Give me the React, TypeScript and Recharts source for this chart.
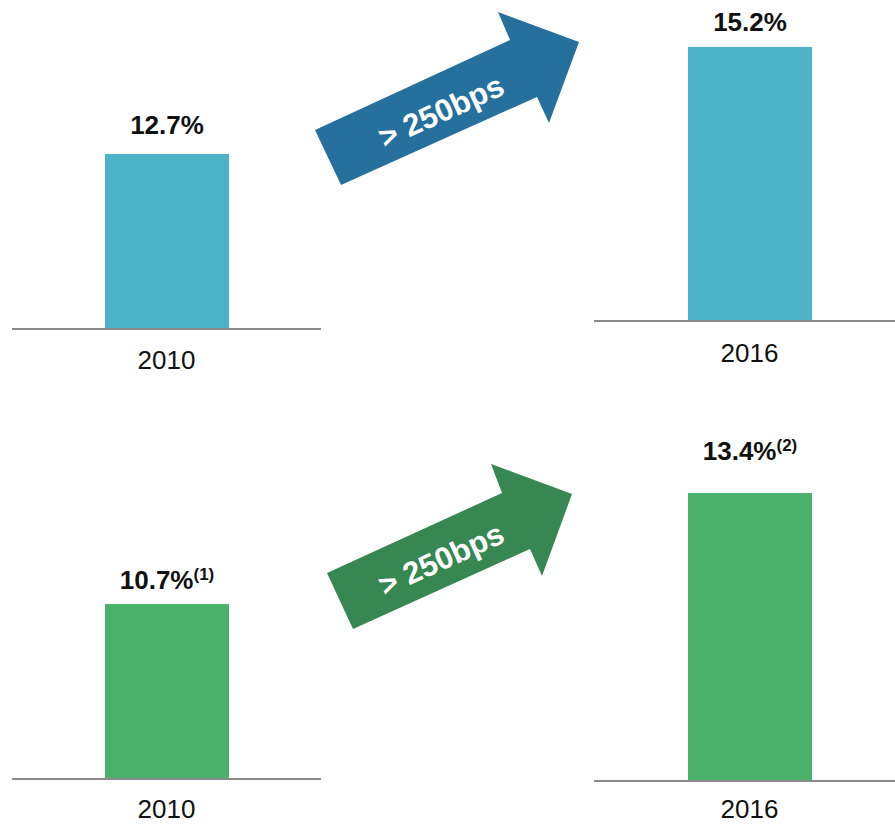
import React from 'react';
import { BarChart, Bar, XAxis, YAxis, LabelList } from 'recharts';

const years = ['2010', '2016'];
const topValues = [12.7, 15.2];
const bottomValues = [10.7, 13.4];
const bottomNotes = ['(1)', '(2)'];
const arrowLabel = '> 250bps';

const FONT = '"Liberation Sans", Arial, Helvetica, sans-serif';
const BLUE = '#4db3c8';
const BLUE_ARROW = '#26709e';
const GREEN = '#4bb26b';
const GREEN_ARROW = '#368751';

interface Box {
  left: number;
  top: number;
  width: number;
  height: number;
  mTop: number;
  mLeft: number;
  mRight: number;
  axisHeight: number;
  padLeft: number;
  labelGap: number;
  tickGap: number;
}

interface PanelProps {
  year: string;
  value: number;
  note?: string;
  color: string;
  box: Box;
}

function Panel({ year, value, note, color, box }: PanelProps) {
  const data = [{ year, value }];

  const renderTick = (props: any) => (
    <text x={props.x} y={props.y + box.tickGap} textAnchor="middle" fontFamily={FONT} fontSize={26} fill="#111">
      {props.payload.value}
    </text>
  );

  const renderLabel = (p: any) => {
    const cx = Number(p.x) + Number(p.width) / 2;
    return (
      <text x={cx} y={Number(p.y) - box.labelGap} textAnchor="middle" fontFamily={FONT} fill="#111">
        <tspan fontSize={26} fontWeight="bold">{`${p.value}%`}</tspan>
        {note && (
          <tspan fontSize={17} fontWeight="bold" dy={-9}>{note}</tspan>
        )}
      </text>
    );
  };

  return (
    <div style={{ position: 'absolute', left: box.left, top: box.top }}>
      <BarChart
        width={box.width}
        height={box.height}
        data={data}
        margin={{ top: box.mTop, right: box.mRight, bottom: 0, left: box.mLeft }}
      >
        <XAxis
          dataKey="year"
          height={box.axisHeight}
          axisLine={{ stroke: '#8a8a8a', strokeWidth: 2 }}
          tickLine={false}
          tickSize={0}
          tickMargin={0}
          padding={{ left: box.padLeft, right: 0 }}
          tick={renderTick}
          interval={0}
        />
        <YAxis hide domain={[0, 'dataMax']} />
        <Bar dataKey="value" fill={color} barSize={124} isAnimationActive={false}>
          <LabelList dataKey="value" content={renderLabel} />
        </Bar>
      </BarChart>
    </div>
  );
}

function Arrow({ points, color, cx, cy }: { points: string; color: string; cx: number; cy: number }) {
  return (
    <g>
      <polygon points={points} fill={color} />
      <g transform={`translate(${cx},${cy}) rotate(-24.5)`}>
        <text x={0} y={11} textAnchor="middle" fontFamily={FONT} fontSize={31} fontWeight="bold" fill="#fff">
          {arrowLabel}
        </text>
      </g>
    </g>
  );
}

export default function App() {
  return (
    <div style={{ position: 'absolute', left: 0, top: 0, width: 895, height: 824, background: '#fff' }}>
      <Panel
        year={years[0]}
        value={topValues[0]}
        color={BLUE}
        box={{ left: 0, top: 0, width: 330, height: 400, mTop: 154, mLeft: 12, mRight: 9, axisHeight: 71, padLeft: 0, labelGap: 20, tickGap: 40 }}
      />
      <Panel
        year={years[1]}
        value={topValues[1]}
        color={BLUE}
        box={{ left: 580, top: 0, width: 315, height: 400, mTop: 47, mLeft: 14, mRight: 0, axisHeight: 79, padLeft: 10, labelGap: 16, tickGap: 41 }}
      />
      <Panel
        year={years[0]}
        value={bottomValues[0]}
        note={bottomNotes[0]}
        color={GREEN}
        box={{ left: 0, top: 420, width: 330, height: 404, mTop: 184, mLeft: 12, mRight: 9, axisHeight: 45, padLeft: 0, labelGap: 15, tickGap: 39 }}
      />
      <Panel
        year={years[1]}
        value={bottomValues[1]}
        note={bottomNotes[1]}
        color={GREEN}
        box={{ left: 580, top: 420, width: 315, height: 404, mTop: 73, mLeft: 14, mRight: 0, axisHeight: 43, padLeft: 10, labelGap: 33, tickGap: 37 }}
      />
      <svg width={895} height={824} style={{ position: 'absolute', left: 0, top: 0, pointerEvents: 'none' }}>
        <Arrow
          points="315,130 341,185 537,97 549,123 579,42 498,12 510,40"
          color={BLUE_ARROW}
          cx={441}
          cy={111}
        />
        <Arrow
          points="327,573 353,629 530,549 542,576 572,494 491,464 502,493"
          color={GREEN_ARROW}
          cx={441}
          cy={559}
        />
      </svg>
    </div>
  );
}
